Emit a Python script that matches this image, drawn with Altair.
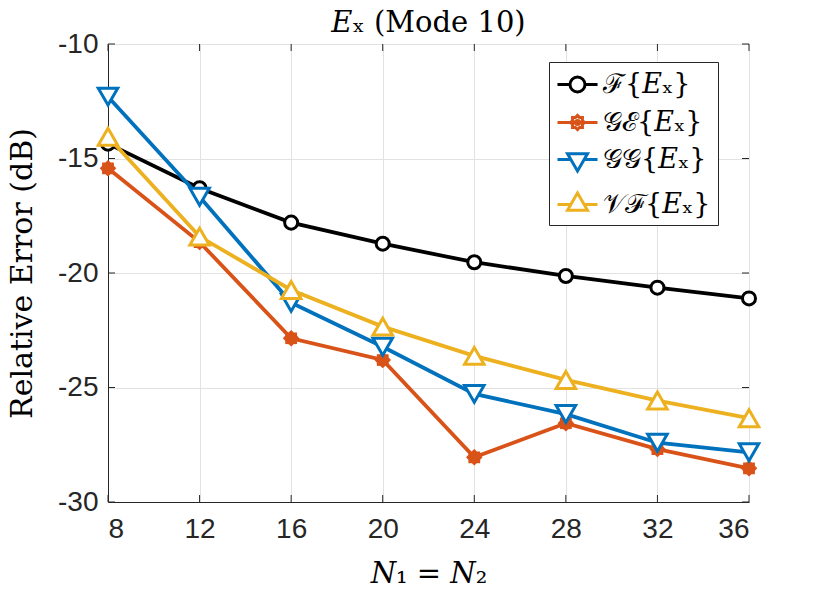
import math
import altair as alt
import pandas as pd

# ---- data ----
n_vals = [8, 12, 16, 20, 24, 28, 32, 36]
f_ex = [-14.35, -16.3, -17.8, -18.72, -19.53, -20.13, -20.64, -21.11]
ge_ex = [-15.43, -18.65, -22.85, -23.8, -28.05, -26.56, -27.69, -28.53]
gg_ex = [-12.3, -16.67, -21.3, -23.22, -25.28, -26.16, -27.41, -27.83]
vf_ex = [-14.05, -18.41, -20.74, -22.34, -23.62, -24.67, -25.57, -26.34]

series_names = ["ℱ{𝐸ₓ}", "𝒢ℰ{𝐸ₓ}", "𝒢𝒢{𝐸ₓ}", "𝒱ℱ{𝐸ₓ}"]
series_vals = [f_ex, ge_ex, gg_ex, vf_ex]
series_colors = ["#000000", "#D95319", "#0072BD", "#EDB120"]

x_ticks = [8, 12, 16, 20, 24, 28, 32, 36]
y_ticks = [-30, -25, -20, -15, -10]

W, H = 641, 458
AX = "#262626"


def star_path(r_out, r_in, cx=0.0):
    pts = []
    for k in range(16):
        r = r_out if k % 2 == 0 else r_in
        a = math.pi * k / 8
        pts.append(f"{cx + r * math.cos(a):.3f},{r * math.sin(a):.3f}")
    return "M" + "L".join(pts) + "Z"


star = star_path(1.0, 0.78)
marker_shapes = ["circle", star, "triangle-down", "triangle-up"]
marker_sizes = [170, 210, 380, 380]
marker_fill = ["white", "#D95319", "white", "white"]
marker_sw = [3, 1.5, 3, 3]

L = 1.43  # half line length in legend symbol units (unit = 14 px)
legend_paths = [
    f"M-{L},0H-0.536M0.536,0H{L}M-0.536,0A0.536,0.536 0 1,0 0.536,0A0.536,0.536 0 1,0 -0.536,0",
    f"M-{L},0H{L}" + star_path(0.5, 0.38) + "M-0.15,0A0.15,0.15 0 1,0 0.15,0A0.15,0.15 0 1,0 -0.15,0",
    f"M-{L},0H-0.476M0.476,0H{L}M-0.714,-0.412L0.714,-0.412L0,0.825Z",
    f"M-{L},0H-0.476M0.476,0H{L}M0,-0.825L-0.714,0.412L0.714,0.412Z",
]

rows = []
for name, vals in zip(series_names, series_vals):
    for xv, yv in zip(n_vals, vals):
        rows.append({"series": name, "x": xv, "y": yv})
df = pd.DataFrame(rows)

xscale = alt.Scale(domain=[8, 36], nice=False, zero=False)
yscale = alt.Scale(domain=[-30, -10], nice=False, zero=False)

xaxis = alt.Axis(values=x_ticks, title="𝑁₁ = 𝑁₂", grid=True, ticks=False,
                 labelFont="Liberation Sans", labelFontSize=28, labelColor=AX,
                 labelPadding=13, domainColor=AX, gridColor="#e2e2e2",
                 titleFont="DejaVu Serif", titleFontSize=29,
                 titleFontWeight="normal", titleColor="#000000", titlePadding=16)
yaxis = alt.Axis(values=y_ticks, title="Relative Error (dB)", grid=True, ticks=False,
                 labelFont="Liberation Sans", labelFontSize=28, labelColor=AX,
                 labelPadding=10, domainColor=AX, gridColor="#e2e2e2",
                 labelExpr="toString(datum.value)",
                 titleFont="DejaVu Serif", titleFontSize=30, titleFontWeight="normal",
                 titleColor="#000000", titlePadding=20)

X = alt.X("x:Q", scale=xscale, axis=xaxis)
Y = alt.Y("y:Q", scale=yscale, axis=yaxis)

layers = []
for i, name in enumerate(series_names):
    sub = alt.Chart(df).transform_filter(alt.datum.series == name)
    layers.append(sub.mark_line(color=series_colors[i], strokeWidth=3.8).encode(x=X, y=Y))
    layers.append(sub.mark_point(shape=marker_shapes[i], size=marker_sizes[i],
                                 filled=False, fill=marker_fill[i], fillOpacity=1,
                                 stroke=series_colors[i], strokeWidth=marker_sw[i], opacity=1)
                  .encode(x=X, y=Y))

# inward ticks
xt_df = pd.DataFrame({"x": x_ticks})
yt_df = pd.DataFrame({"y": y_ticks})
tl = 7
layers.append(alt.Chart(xt_df).mark_rule(color=AX, strokeWidth=1).encode(x=X, y=alt.value(H), y2=alt.value(H - tl)))
layers.append(alt.Chart(xt_df).mark_rule(color=AX, strokeWidth=1).encode(x=X, y=alt.value(0), y2=alt.value(tl)))
layers.append(alt.Chart(yt_df).mark_rule(color=AX, strokeWidth=1).encode(y=Y, x=alt.value(0), x2=alt.value(tl)))
layers.append(alt.Chart(yt_df).mark_rule(color=AX, strokeWidth=1).encode(y=Y, x=alt.value(W), x2=alt.value(W - tl)))

legend_props = dict(title=None, orient="none", legendX=441, legendY=18,
                    symbolSize=784, symbolStrokeWidth=3, symbolOffset=6,
                    labelFont="DejaVu Serif", labelFontSize=27,
                    labelColor="#000000", labelOffset=10, labelLimit=400,
                    rowPadding=8, padding=7, strokeColor=AX,
                    fillColor="white", symbolOpacity=1)

# legend-only layer
leg = alt.Chart(df).transform_filter("false").mark_point(filled=False, strokeWidth=3).encode(
    x=X, y=Y,
    color=alt.Color("series:N", scale=alt.Scale(domain=series_names, range=series_colors),
                    legend=alt.Legend(**legend_props)),
    shape=alt.Shape("series:N", scale=alt.Scale(domain=series_names, range=legend_paths),
                    legend=alt.Legend(**legend_props)),
)
layers.append(leg)

chart = alt.layer(*layers).properties(
    width=W, height=H,
    title=alt.Title("𝐸ₓ (Mode 10)", font="DejaVu Serif", fontSize=29, fontWeight="normal",
                    color="#000000", offset=4, dy=12),
    autosize=alt.AutoSizeParams(type="none"),
    padding={"left": 100, "top": 36, "right": 73, "bottom": 85},
).configure_view(stroke=AX, strokeWidth=1).configure(background="white")

chart.save("out.html", embed_options={"renderer": "svg", "actions": False})
